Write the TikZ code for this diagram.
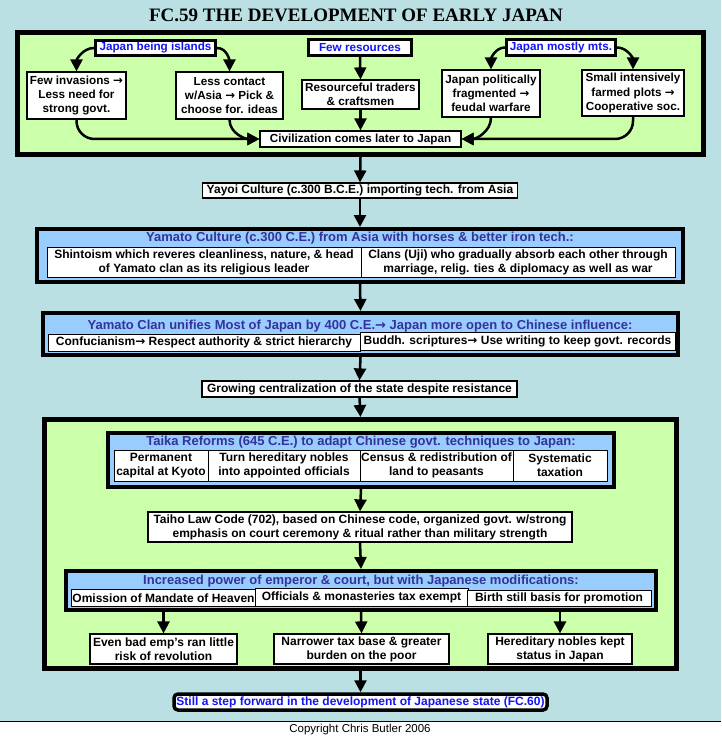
\documentclass[tikz,border=0pt]{standalone}
\usepackage{fontspec}
\setmainfont{Liberation Sans}
\newfontfamily\titlefont{Liberation Serif}
\newfontfamily\arrowfont{DejaVu Sans}
\newcommand\rarr{{\arrowfont\bfseries →}}
\usetikzlibrary{arrows.meta}
\definecolor{seablue}{RGB}{186,224,227}
\definecolor{leafgreen}{RGB}{204,255,170}
\definecolor{skyblue}{RGB}{153,204,255}
\definecolor{inkblue}{RGB}{51,51,153}
\definecolor{linkblue}{RGB}{20,20,240}

\begin{document}
\begin{tikzpicture}[x=1pt,y=-1pt,
	dims/.style 2 args={minimum width=#1pt, minimum height=#2pt},
	txt/.style={font=\bfseries\fontsize{12}{14}\selectfont, align=center, inner sep=0.5pt},
	fact/.style={txt, draw, fill=white, line width=1.2pt},
	tfact/.style={fact, font=\bfseries\fontsize{11.7}{14.2}\selectfont},
	cell/.style={txt, draw, fill=white, line width=1pt},
	topic/.style={txt, draw, fill=white, line width=3pt, text=linkblue, font=\bfseries\fontsize{11.7}{14}\selectfont},
	panel/.style={draw, fill=leafgreen, line width=5pt},
	band/.style={draw, fill=skyblue, line width=4pt},
	heading/.style={txt, text=inkblue, font=\bfseries\fontsize{13}{14}\selectfont},
	arr/.style={line width=2.5pt, -{Triangle[length=12pt,width=12pt]}}]
	\useasboundingbox (0,0) rectangle (721,738);
	\fill[seablue] (0,0) rectangle (721,721);
	\fill[white] (0,721) rectangle (721,738);
	\draw[line width=1pt] (0,721) -- (721,721);

	\node[font=\titlefont\bfseries\fontsize{19}{20}\selectfont, inner sep=0pt] (title) at (356,15.5) {FC.59 THE DEVELOPMENT OF EARLY JAPAN};

	% geography
	\node[panel, dims={686}{122}] (geo) at (360.5,93.5) {};
	\node[topic, dims={120}{15}] (islands) at (155.5,48) {Japan being islands};
	\node[topic, dims={103}{16}] (resources) at (360,47.5) {Few resources};
	\node[topic, dims={109}{16}] (mts) at (561,47.5) {Japan mostly mts.};
	\node[tfact, dims={99}{47}] (invasions) at (76.5,95.5) {Few invasions \rarr\\Less need for\\strong govt.};
	\node[tfact, dims={107}{47}] (contact) at (229.5,95.5) {Less contact\\w/Asia \rarr{} Pick \&\\choose for. ideas};
	\node[tfact, dims={117}{29}] (traders) at (360.5,94.5) {Resourceful traders\\\& craftsmen};
	\node[tfact, dims={98}{47}] (fragmented) at (491,93.5) {Japan politically\\fragmented \rarr\\feudal warfare};
	\node[tfact, dims={102}{46}] (plots) at (633,93) {Small intensively\\farmed plots \rarr\\Cooperative soc.};
	\node[tfact, dims={201}{16}] (civ) at (360.5,139) {Civilization comes later to Japan};
	\draw[arr] (islands.west) to[out=180,in=90] (invasions.north);
	\draw[arr] (islands.east) to[out=0,in=90] (contact.north);
	\draw[arr] (mts.west) to[out=180,in=90] (fragmented.north);
	\draw[arr] (mts.east) to[out=0,in=90] (plots.north);
	\draw[arr] (resources.south) -- (traders.north);
	\draw[arr] (traders.south) -- (civ.north);
	\draw[arr, rounded corners=18pt] (invasions.south) |- (civ.west);
	\draw[arr] (contact.south) to[out=-90,in=180] (civ.west);
	\draw[arr] (fragmented.south) to[out=-90,in=0] (civ.east);
	\draw[arr, rounded corners=18pt] (plots.south) |- (civ.east);

	\node[fact, dims={315}{15}] (yayoi) at (360,190.5) {Yayoi Culture (c.300 B.C.E.) importing tech. from Asia};

	% yamato culture
	\node[band, dims={646}{53}] (yamato) at (360,255.5) {};
	\node[heading] (yamatohead) at (360,238) {Yamato Culture (c.300 C.E.) from Asia with horses \& better iron tech.:};
	\node[cell, dims={314}{30}] (shinto) at (204,262) {Shintoism which reveres cleanliness, nature, \& head\\of Yamato clan as its religious leader};
	\node[cell, dims={314}{30}] (clans) at (518,262) {Clans (Uji) who gradually absorb each other through\\marriage, relig. ties \& diplomacy as well as war};

	% yamato clan
	\node[band, dims={635}{42}] (clan) at (360.5,334) {};
	\node[heading] (clanhead) at (360,326.5) {Yamato Clan unifies Most of Japan by 400 C.E.\rarr{} Japan more open to Chinese influence:};
	\node[cell, dims={312}{17}] (confu) at (204,342.5) {Confucianism\rarr{} Respect authority \& strict hierarchy};
	\node[cell, dims={315}{18}] (buddh) at (517.5,341) {Buddh. scriptures\rarr{} Use writing to keep govt. records};

	\node[fact, dims={315}{16}] (growing) at (359.5,389) {Growing centralization of the state despite resistance};

	% reforms
	\node[panel, dims={632}{249}] (reform) at (360.5,544) {};
	\node[band, dims={506}{54}] (taika) at (361,460) {};
	\node[heading] (taikahead) at (361,442) {Taika Reforms (645 C.E.) to adapt Chinese govt. techniques to Japan:};
	\node[cell, dims={94}{31}] (kyoto) at (161,465.5) {Permanent\\capital at Kyoto};
	\node[cell, dims={152}{31}] (nobles) at (284,465.5) {Turn hereditary nobles\\into appointed officials};
	\node[cell, dims={153}{31}] (census) at (436.5,465.5) {Census \& redistribution of\\land to peasants};
	\node[cell, dims={94}{31}] (tax) at (560,465.5) {Systematic\\taxation};
	\node[fact, dims={424}{30}] (taiho) at (360,527) {Taiho Law Code (702), based on Chinese code, organized govt. w/strong\\emphasis on court ceremony \& ritual rather than military strength};
	\node[band, dims={590}{39}] (power) at (361,590.5) {};
	\node[heading] (powerhead) at (361,581.5) {Increased power of emperor \& court, but with Japanese modifications:};
	\node[cell, dims={183}{17}] (mandate) at (163.5,598) {Omission of Mandate of Heaven};
	\node[cell, dims={213}{18}] (exempt) at (361.5,597.5) {Officials \& monasteries tax exempt};
	\node[cell, dims={184}{16}] (birth) at (559,598) {Birth still basis for promotion};
	\node[fact, dims={147}{30}] (bademp) at (163.5,649) {Even bad emp’s ran little\\risk of revolution};
	\node[fact, dims={175}{30}] (narrow) at (361.5,649) {Narrower tax base \& greater\\burden on the poor};
	\node[fact, dims={144}{30}] (kept) at (560,649) {Hereditary nobles kept\\status in Japan};

	\node[txt, draw, fill=white, line width=3.5pt, rounded corners=4pt, text=linkblue, dims={373}{16}] (forward) at (360.5,702) {Still a step forward in the development of Japanese state (FC.60)};

	\draw[arr] (geo.south) -- (yayoi.north);
	\draw[arr] (yayoi.south) -- (yamato.north);
	\draw[arr] (yamato.south) -- (clan.north);
	\draw[arr] (clan.south) -- (growing.north);
	\draw[arr] (growing.south) -- (reform.north);
	\draw[arr] (taika.south) -- (taiho.north);
	\draw[arr] (taiho.south) -- (power.north);
	\draw[arr] (bademp.north |- power.south) -- (bademp.north);
	\draw[arr] (power.south) -- (narrow.north);
	\draw[arr] (kept.north |- power.south) -- (kept.north);
	\draw[arr] (reform.south) -- (forward.north);

	\node[font=\fontsize{11.5}{13}\selectfont, inner sep=0pt] (copy) at (360,730) {Copyright Chris Butler 2006};
\end{tikzpicture}
\end{document}
